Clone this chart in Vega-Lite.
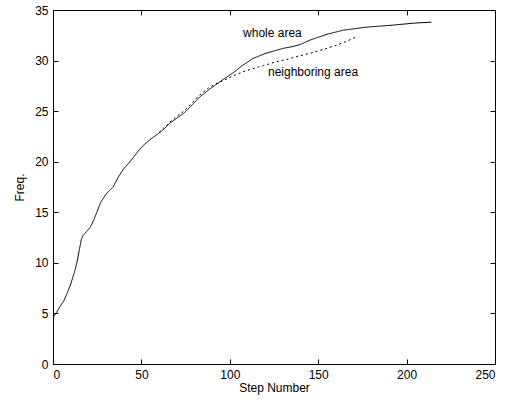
{
  "$schema": "https://vega.github.io/schema/vega-lite/v6.json",
  "width": 442,
  "height": 354,
  "autosize": "none",
  "padding": {"left": 53, "top": 10, "right": 14, "bottom": 40},
  "background": "white",
  "config": {
    "font": "Liberation Sans",
    "view": {"stroke": "black", "strokeWidth": 1},
    "axis": {
      "domainColor": "black", "tickColor": "black", "labelColor": "black", "titleColor": "black",
      "grid": false, "labelFontSize": 12, "titleFontSize": 12, "titleFontWeight": "normal",
      "tickSize": -5, "labelPadding": 10
    }
  },
  "datasets": {
    "curves": [
      {"step": 0, "freq": 4.6, "series": "whole area"},
      {"step": 2, "freq": 5.1, "series": "whole area"},
      {"step": 4, "freq": 5.7, "series": "whole area"},
      {"step": 6, "freq": 6.2, "series": "whole area"},
      {"step": 8, "freq": 7.0, "series": "whole area"},
      {"step": 10, "freq": 7.9, "series": "whole area"},
      {"step": 12, "freq": 9.0, "series": "whole area"},
      {"step": 13.5, "freq": 10.0, "series": "whole area"},
      {"step": 15, "freq": 11.4, "series": "whole area"},
      {"step": 16, "freq": 12.3, "series": "whole area"},
      {"step": 17, "freq": 12.7, "series": "whole area"},
      {"step": 19, "freq": 13.1, "series": "whole area"},
      {"step": 21, "freq": 13.5, "series": "whole area"},
      {"step": 23, "freq": 14.2, "series": "whole area"},
      {"step": 25, "freq": 15.1, "series": "whole area"},
      {"step": 27, "freq": 16.0, "series": "whole area"},
      {"step": 30, "freq": 16.8, "series": "whole area"},
      {"step": 34, "freq": 17.5, "series": "whole area"},
      {"step": 37, "freq": 18.5, "series": "whole area"},
      {"step": 40, "freq": 19.3, "series": "whole area"},
      {"step": 44, "freq": 20.1, "series": "whole area"},
      {"step": 48, "freq": 21.0, "series": "whole area"},
      {"step": 51, "freq": 21.6, "series": "whole area"},
      {"step": 55, "freq": 22.2, "series": "whole area"},
      {"step": 59, "freq": 22.7, "series": "whole area"},
      {"step": 62, "freq": 23.1, "series": "whole area"},
      {"step": 66, "freq": 23.8, "series": "whole area"},
      {"step": 70, "freq": 24.3, "series": "whole area"},
      {"step": 74, "freq": 24.8, "series": "whole area"},
      {"step": 78, "freq": 25.5, "series": "whole area"},
      {"step": 83, "freq": 26.4, "series": "whole area"},
      {"step": 88, "freq": 27.1, "series": "whole area"},
      {"step": 92, "freq": 27.6, "series": "whole area"},
      {"step": 96, "freq": 28.1, "series": "whole area"},
      {"step": 102, "freq": 28.8, "series": "whole area"},
      {"step": 107, "freq": 29.5, "series": "whole area"},
      {"step": 113, "freq": 30.2, "series": "whole area"},
      {"step": 120, "freq": 30.7, "series": "whole area"},
      {"step": 126, "freq": 31.0, "series": "whole area"},
      {"step": 130, "freq": 31.2, "series": "whole area"},
      {"step": 136, "freq": 31.4, "series": "whole area"},
      {"step": 140, "freq": 31.6, "series": "whole area"},
      {"step": 145, "freq": 32.0, "series": "whole area"},
      {"step": 150, "freq": 32.3, "series": "whole area"},
      {"step": 155, "freq": 32.6, "series": "whole area"},
      {"step": 164, "freq": 33.0, "series": "whole area"},
      {"step": 177, "freq": 33.3, "series": "whole area"},
      {"step": 192, "freq": 33.5, "series": "whole area"},
      {"step": 204, "freq": 33.7, "series": "whole area"},
      {"step": 214, "freq": 33.8, "series": "whole area"},
      {"step": 60, "freq": 22.9, "series": "neighboring area"},
      {"step": 66, "freq": 23.9, "series": "neighboring area"},
      {"step": 70, "freq": 24.5, "series": "neighboring area"},
      {"step": 74, "freq": 25.0, "series": "neighboring area"},
      {"step": 78, "freq": 25.7, "series": "neighboring area"},
      {"step": 83, "freq": 26.6, "series": "neighboring area"},
      {"step": 88, "freq": 27.3, "series": "neighboring area"},
      {"step": 92, "freq": 27.7, "series": "neighboring area"},
      {"step": 96, "freq": 28.0, "series": "neighboring area"},
      {"step": 102, "freq": 28.5, "series": "neighboring area"},
      {"step": 107.6, "freq": 28.9, "series": "neighboring area"},
      {"step": 113, "freq": 29.2, "series": "neighboring area"},
      {"step": 119, "freq": 29.5, "series": "neighboring area"},
      {"step": 126.5, "freq": 29.9, "series": "neighboring area"},
      {"step": 132, "freq": 30.1, "series": "neighboring area"},
      {"step": 138, "freq": 30.4, "series": "neighboring area"},
      {"step": 145, "freq": 30.7, "series": "neighboring area"},
      {"step": 153, "freq": 31.1, "series": "neighboring area"},
      {"step": 160, "freq": 31.5, "series": "neighboring area"},
      {"step": 166, "freq": 31.9, "series": "neighboring area"},
      {"step": 171, "freq": 32.3, "series": "neighboring area"}
    ],
    "labels": [
      {"step": 107.5, "freq": 32.7, "label": "whole area"},
      {"step": 121.6, "freq": 28.9, "label": "neighboring area"}
    ]
  },
  "layer": [
    {
      "data": {"name": "curves"},
      "mark": {"type": "line", "color": "black", "strokeWidth": 1},
      "encoding": {
        "x": {"field": "step", "type": "quantitative", "scale": {"domain": [0, 250], "nice": false},
              "axis": {"title": "Step Number", "values": [0, 50, 100, 150, 200, 250], "titlePadding": 2}},
        "y": {"field": "freq", "type": "quantitative", "scale": {"domain": [0, 35], "nice": false},
              "axis": {"title": "Freq.", "values": [0, 5, 10, 15, 20, 25, 30, 35], "titlePadding": 8}},
        "detail": {"field": "series"},
        "strokeDash": {"field": "series", "type": "nominal",
                       "scale": {"domain": ["whole area", "neighboring area"], "range": [[1, 0], [2, 3]]},
                       "legend": null}
      }
    },
    {
      "data": {"name": "labels"},
      "mark": {"type": "text", "align": "left", "baseline": "middle", "fontSize": 12, "color": "black"},
      "encoding": {
        "x": {"field": "step", "type": "quantitative",
              "axis": {"orient": "top", "labels": false, "title": null, "values": [0, 50, 100, 150, 200, 250]}},
        "y": {"field": "freq", "type": "quantitative",
              "axis": {"orient": "right", "labels": false, "title": null, "values": [0, 5, 10, 15, 20, 25, 30, 35]}},
        "text": {"field": "label"}
      }
    }
  ],
  "resolve": {"axis": {"x": "independent", "y": "independent"}}
}
